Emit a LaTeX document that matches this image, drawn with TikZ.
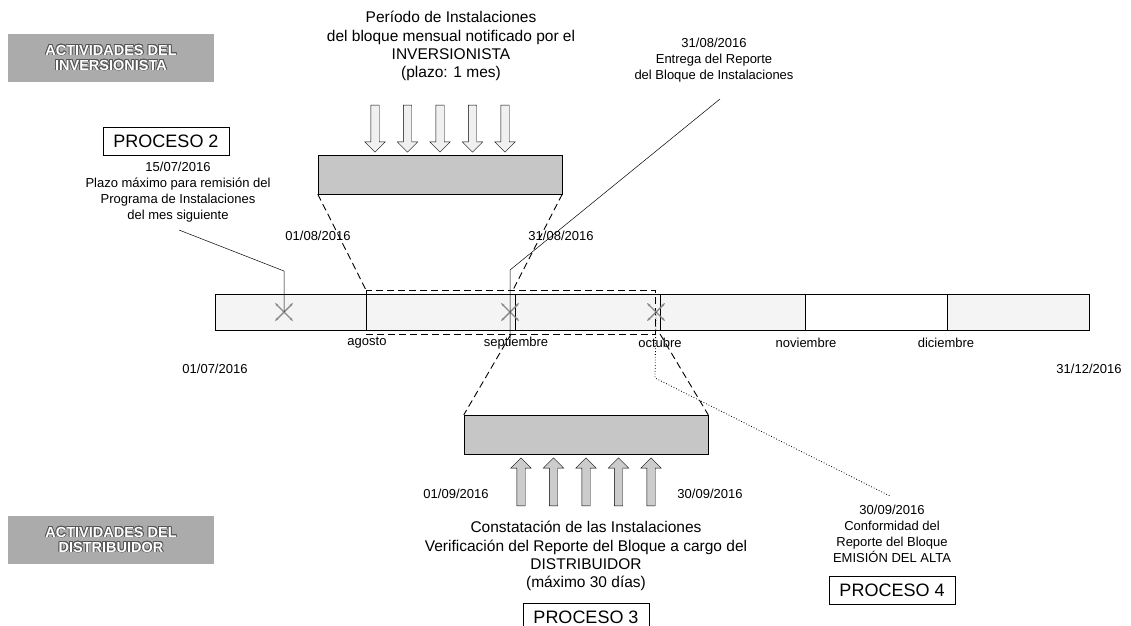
\documentclass[tikz,border=0pt]{standalone}
\usepackage{fontspec}
\setmainfont{Liberation Sans}
\usepackage{contour}
\contourlength{0.7pt}
\usetikzlibrary{shapes.arrows,arrows.meta,calc}
\definecolor{boxgray}{HTML}{ABABAB}
\definecolor{edgegray}{HTML}{555555}
\definecolor{bargray}{HTML}{F4F4F4}
\definecolor{blockgray}{HTML}{C6C6C6}
\definecolor{markgray}{HTML}{8A8A8A}
\newcommand{\actline}[1]{\contour{edgegray}{#1}}

\begin{document}
\begin{tikzpicture}[x=1pt,y=-1pt,
  lbl/.style={font=\fontsize{13}{16}\selectfont, align=center, inner sep=0pt},
  txt/.style={font=\fontsize{15.5}{18.2}\selectfont, align=center, inner sep=0pt},
  proc/.style={draw, font=\fontsize{18}{20}\selectfont, minimum width=126pt, minimum height=28pt, inner sep=0pt},
  act/.style={fill=boxgray, text=white, font=\bfseries\fontsize{14.5}{15}\selectfont, align=center, minimum width=206pt, minimum height=48pt, inner sep=0pt},
  gbox/.style={draw, fill=blockgray, inner sep=0pt, minimum width=244pt, minimum height=39pt},
  dnarrow/.style={single arrow, draw, fill=gray!12, shape border rotate=270, minimum height=47pt, single arrow head extend=6pt, inner sep=4pt},
  uparrow/.style={single arrow, draw, fill=gray!40, shape border rotate=90, minimum height=48pt, single arrow head extend=6pt, inner sep=4pt},
  zoomline/.style={dash pattern=on 7pt off 4pt, line width=0.9pt},
  xmark/.style={markgray, line width=1.4pt, {Stealth[length=3.5pt]}-{Stealth[length=3.5pt]}}]
\useasboundingbox (0,0) rectangle (1131,625);
% actividades
\node[act] (actinv) at (111,58) {\actline{ACTIVIDADES DEL}\\\actline{INVERSIONISTA}};
\node[act] (actdist) at (111,540) {\actline{ACTIVIDADES DEL}\\\actline{DISTRIBUIDOR}};
% proceso 2
\node[proc] (proc2) at (166,141) {PROCESO 2};
\node[lbl] (plazo) at (178,192) {15/07/2016\\Plazo máximo para remisión del\\Programa de Instalaciones\\del mes siguiente};
% periodo de instalaciones
\node[txt] (periodo) at (451,46) {Período de Instalaciones\\del bloque mensual notificado por el\\INVERSIONISTA\\(plazo: 1 mes)};
\node[dnarrow] (d1) at (375,126.5) {};
\node[dnarrow] (d2) at (407.5,126.5) {};
\node[dnarrow] (d3) at (440,126.5) {};
\node[dnarrow] (d4) at (472.5,126.5) {};
\node[dnarrow] (d5) at (505,126.5) {};
\node[gbox] (ubox) at (440,174.5) {};
\node[lbl] (ago1) at (318,236) {01/08/2016};
\node[lbl] (ago31) at (561,236) {31/08/2016};
% entrega del reporte
\node[lbl] (entrega) at (714,60) {31/08/2016\\Entrega del Reporte\\del Bloque de Instalaciones};
% linea de tiempo
\draw[fill=bargray, line width=1pt] (215,294) rectangle (1089,330);
\fill[white] (805,294) rectangle (947,330);
\draw[line width=1pt] (215,294) rectangle (1089,330);
\draw[line width=1pt] (366,294) -- (366,330);
\draw[line width=1pt] (515,294) -- (515,330);
\draw[line width=1pt] (660,294) -- (660,330);
\draw[line width=1pt] (805,294) -- (805,330);
\draw[line width=1pt] (947,294) -- (947,330);
\node[lbl] (m8) at (367,343) {agosto};
\node[lbl] (m9) at (516,343) {septiembre};
\node[lbl] (m10) at (660,343) {octubre};
\node[lbl] (m11) at (806,343) {noviembre};
\node[lbl] (m12) at (946,343) {diciembre};
\node[lbl] (ini) at (215,369) {01/07/2016};
\node[lbl] (fin) at (1089,369) {31/12/2016};
\draw[zoomline] (366,290) rectangle (655,334);
% marcas
\coordinate (x1) at (284,312);
\coordinate (x2) at (510,312);
\coordinate (x3) at (656,312);
\draw[xmark] ($(x1)+(-9,-9)$) -- ($(x1)+(9,9)$);
\draw[xmark] ($(x1)+(-9,9)$) -- ($(x1)+(9,-9)$);
\draw[xmark] ($(x2)+(-9,-9)$) -- ($(x2)+(9,9)$);
\draw[xmark] ($(x2)+(-9,9)$) -- ($(x2)+(9,-9)$);
\draw[xmark] ($(x3)+(-9,-9)$) -- ($(x3)+(9,9)$);
\draw[xmark] ($(x3)+(-9,9)$) -- ($(x3)+(9,-9)$);
% conectores
\coordinate (p2a) at (179,230);
\coordinate (p2b) at (284,271);
\draw[line width=0.5pt] (p2a) -- (p2b) -- (x1);
\coordinate (e1) at (720,99);
\coordinate (e2) at (510,270);
\coordinate (e3) at (510,345);
\draw[line width=0.5pt] (e1) -- (e2) -- (e3);
\coordinate (agoTop) at (366,290);
\coordinate (sepTop) at (513,290);
\draw[zoomline] (ubox.south west) -- (agoTop);
\draw[zoomline] (ubox.south east) -- (sepTop);
% verificacion
\node[gbox] (lbox) at (586,434.5) {};
\coordinate (sepBot) at (511,334);
\coordinate (octBot) at (660,334);
\draw[zoomline] (sepBot) -- (lbox.north west);
\draw[zoomline] (octBot) -- (lbox.north east);
\node[uparrow] (u1) at (521,484) {};
\node[uparrow] (u2) at (553.5,484) {};
\node[uparrow] (u3) at (586,484) {};
\node[uparrow] (u4) at (618.5,484) {};
\node[uparrow] (u5) at (651,484) {};
\node[lbl] (sep1) at (456,494) {01/09/2016};
\node[lbl] (sep30) at (710,494) {30/09/2016};
\node[txt] (constata) at (586,556) {Constatación de las Instalaciones\\Verificación del Reporte del Bloque a cargo del\\DISTRIBUIDOR\\(máximo 30 días)};
\node[proc] (proc3) at (586,617) {PROCESO 3};
% conformidad
\node[lbl] (conform) at (892,534) {30/09/2016\\Conformidad del\\Reporte del Bloque\\EMISIÓN DEL ALTA};
\node[proc] (proc4) at (892,590) {PROCESO 4};
\coordinate (o1) at (655,378);
\coordinate (o2) at (890,496);
\draw[dotted, line width=0.8pt] (x3) -- (o1) -- (o2);
\end{tikzpicture}
\end{document}
